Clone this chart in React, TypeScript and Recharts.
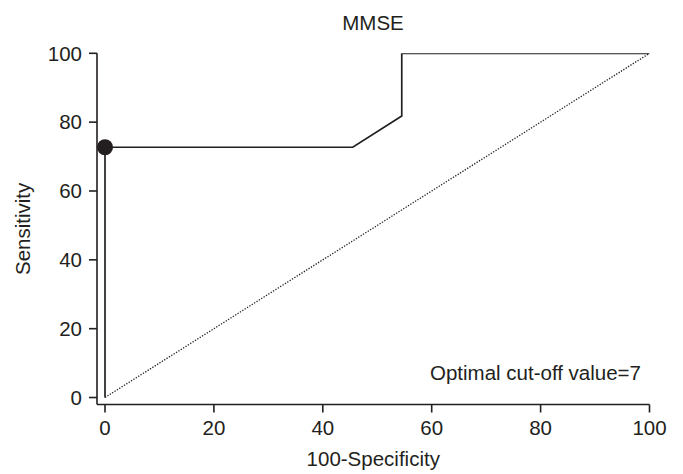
import { ComposedChart, Line, Scatter, XAxis, YAxis, Label } from "recharts";

const rocX = [0, 0, 45.5, 54.5, 54.5, 100];
const rocY = [0, 72.7, 72.7, 81.8, 100, 100];
const chanceX = [0, 100];
const chanceY = [0, 100];
const cutoffX = [0];
const cutoffY = [72.7];
const xTicks = [0, 20, 40, 60, 80, 100];
const yTicks = [0, 20, 40, 60, 80, 100];

const title = "MMSE";
const note = "Optimal cut-off value=7";

const ink = "#231f20";
const font = "'Liberation Sans', Arial, sans-serif";

const toPoints = (xs: number[], ys: number[]) => xs.map((x, i) => ({ x, y: ys[i] }));

const rocData = toPoints(rocX, rocY);
const chanceData = toPoints(chanceX, chanceY);
const cutoffData = toPoints(cutoffX, cutoffY);

const tickStyle = { fill: ink, fontSize: 20.5, fontFamily: font };

export default function App() {
  return (
    <div style={{ position: "absolute", left: 0, top: 0 }}>
      <ComposedChart
        width={683}
        height={474}
        margin={{ top: 53.3, right: 33.5, bottom: 0, left: 0 }}
      >
        <XAxis
          type="number"
          dataKey="x"
          domain={[-1.47, 100]}
          ticks={xTicks}
          allowDataOverflow
          height={69.5}
          stroke={ink}
          strokeWidth={1.6}
          tickSize={8}
          tickMargin={8}
          tick={tickStyle}
          tickLine={{ stroke: ink, strokeWidth: 1.6 }}
        >
          <Label
            value="100-Specificity"
            position="insideBottom"
            offset={8}
            style={{ fill: ink, fontSize: 20.5, fontFamily: font }}
          />
        </XAxis>
        <YAxis
          type="number"
          dataKey="y"
          domain={[-2.03, 100]}
          ticks={yTicks}
          allowDataOverflow
          width={97}
          stroke={ink}
          strokeWidth={1.6}
          tickSize={8}
          tickMargin={7}
          tick={tickStyle}
          tickLine={{ stroke: ink, strokeWidth: 1.6 }}
        >
          <Label
            value="Sensitivity"
            angle={-90}
            position="insideLeft"
            offset={23}
            style={{ fill: ink, fontSize: 20.5, fontFamily: font, textAnchor: "middle" }}
          />
        </YAxis>
        <Line
          data={chanceData}
          dataKey="y"
          type="linear"
          stroke={ink}
          strokeWidth={1.3}
          strokeDasharray="1.3 1.5"
          dot={false}
          activeDot={false}
          isAnimationActive={false}
        />
        <Line
          data={rocData}
          dataKey="y"
          type="linear"
          stroke={ink}
          strokeWidth={1.7}
          dot={false}
          activeDot={false}
          isAnimationActive={false}
        />
        <Scatter
          data={cutoffData}
          dataKey="y"
          fill={ink}
          isAnimationActive={false}
          shape={(p: any) => <circle cx={p.cx} cy={p.cy} r={8} fill={ink} />}
        />
        <text x={373} y={30} textAnchor="middle" fill={ink} fontSize={20.5} fontFamily={font}>
          {title}
        </text>
        <text x={641} y={380} textAnchor="end" fill={ink} fontSize={20.5} fontFamily={font}>
          {note}
        </text>
      </ComposedChart>
    </div>
  );
}
